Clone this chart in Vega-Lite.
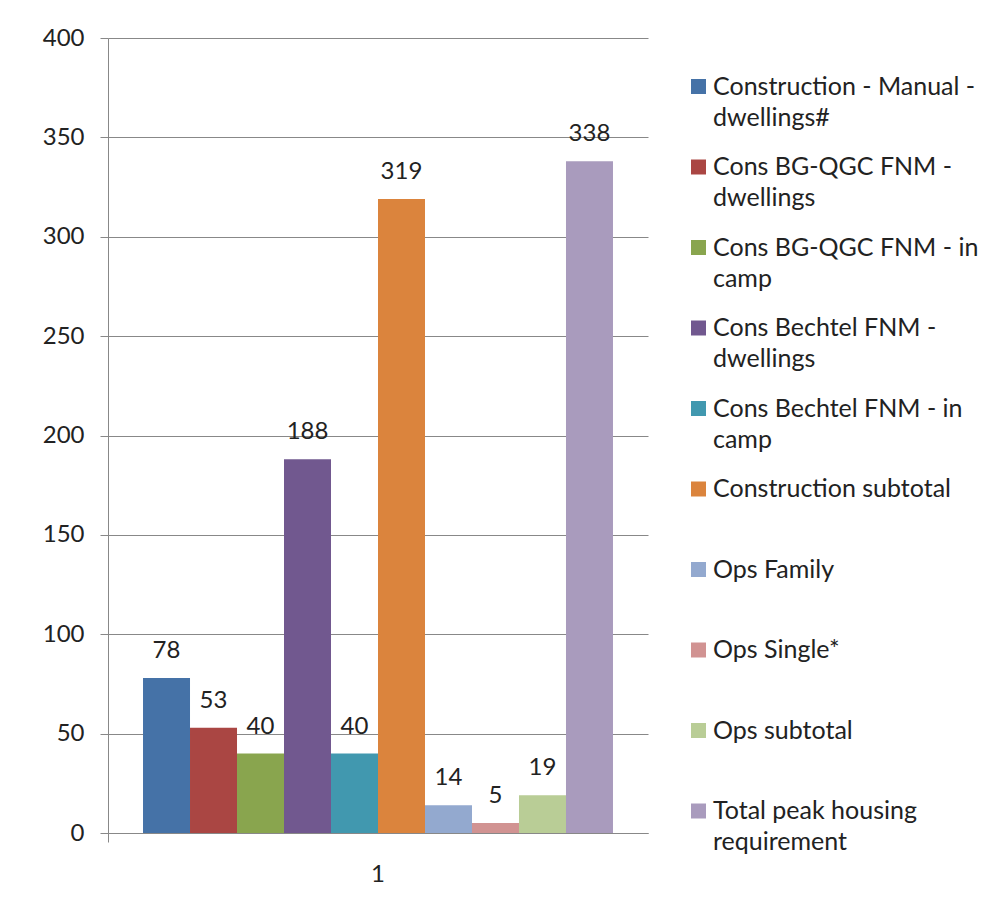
{
  "$schema": "https://vega.github.io/schema/vega-lite/v6.json",
  "width": 540,
  "height": 795,
  "autosize": {"type": "none"},
  "padding": {"left": 108, "top": 38, "right": 339, "bottom": 82},
  "background": "white",
  "config": {
    "view": {"stroke": null},
    "font": "Lato",
    "style": {"guide-label": {"lineHeight": 31}},
    "axis": {"labelFont": "Lato", "labelColor": "#222222", "domainColor": "#888888", "tickColor": "#888888", "gridColor": "#888888"}
  },
  "data": {
    "values": [
      {"category": "1", "series": "Construction - Manual - dwellings#", "value": 78},
      {"category": "1", "series": "Cons BG-QGC FNM - dwellings", "value": 53},
      {"category": "1", "series": "Cons BG-QGC FNM  - in camp", "value": 40},
      {"category": "1", "series": "Cons Bechtel FNM - dwellings", "value": 188},
      {"category": "1", "series": "Cons Bechtel FNM -  in camp", "value": 40},
      {"category": "1", "series": "Construction subtotal", "value": 319},
      {"category": "1", "series": "Ops Family", "value": 14},
      {"category": "1", "series": "Ops Single*", "value": 5},
      {"category": "1", "series": "Ops subtotal", "value": 19},
      {"category": "1", "series": "Total peak housing requirement", "value": 338}
    ]
  },
  "encoding": {
    "x": {
      "field": "category",
      "type": "nominal",
      "scale": {"paddingInner": 0, "paddingOuter": 0},
      "axis": {
        "title": null,
        "labelAngle": 0,
        "labelFontSize": 24,
        "labelPadding": 20,
        "tickSize": 9,
        "bandPosition": 0,
        "domainWidth": 1
      }
    },
    "xOffset": {
      "field": "series",
      "type": "nominal",
      "sort": null,
      "scale": {"paddingInner": 0, "paddingOuter": 0.745}
    },
    "y": {
      "field": "value",
      "type": "quantitative",
      "scale": {"domain": [0, 400], "nice": false},
      "axis": {
        "title": null,
        "values": [0, 50, 100, 150, 200, 250, 300, 350, 400],
        "labelFontSize": 24,
        "labelPadding": 16,
        "tickSize": 8,
        "grid": true,
        "gridWidth": 1
      }
    }
  },
  "layer": [
    {
      "mark": {"type": "bar"},
      "encoding": {
        "color": {
          "field": "series",
          "type": "nominal",
          "sort": null,
          "scale": {
            "range": ["#4572A7", "#AA4643", "#89A54E", "#71588F", "#4198AF", "#DB843D", "#93A9CF", "#D19392", "#B9CD96", "#A99BBD"]
          },
          "legend": {
            "orient": "none",
            "legendX": 578,
            "legendY": 36,
            "title": null,
            "padding": 0,
            "symbolType": "square",
            "symbolSize": 225,
            "symbolStrokeWidth": 0,
            "labelFont": "Lato",
            "labelFontSize": 25,
            "labelColor": "#222222",
            "labelOffset": 2,
            "labelLimit": 400,
            "rowPadding": 23.5,
            "labelExpr": "({'Construction - Manual - dwellings#': ['Construction - Manual -', 'dwellings#'], 'Cons BG-QGC FNM - dwellings': ['Cons BG-QGC FNM -', 'dwellings'], 'Cons BG-QGC FNM  - in camp': ['Cons BG-QGC FNM  - in', 'camp'], 'Cons Bechtel FNM - dwellings': ['Cons Bechtel FNM -', 'dwellings'], 'Cons Bechtel FNM -  in camp': ['Cons Bechtel FNM -  in', 'camp'], 'Total peak housing requirement': ['Total peak housing', 'requirement']})[datum.label] || [datum.label, '']",
            "encode": {
              "labels": {"dy": {"value": 15.5}, "lineHeight": {"value": 31}}
            }
          }
        }
      }
    },
    {
      "mark": {"type": "text", "baseline": "alphabetic", "dy": -20, "fontSize": 24, "color": "#222222", "font": "Lato"},
      "encoding": {"text": {"field": "value", "type": "quantitative"}}
    }
  ]
}
